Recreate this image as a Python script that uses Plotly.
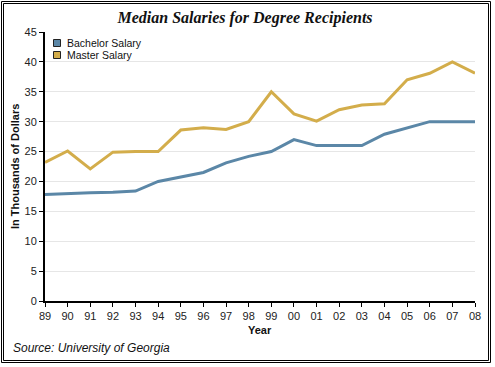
import plotly.graph_objects as go

years = ["89", "90", "91", "92", "93", "94", "95", "96", "97", "98",
         "99", "00", "01", "02", "03", "04", "05", "06", "07", "08"]
bachelor = [17.8, 18.0, 18.1, 18.2, 18.4, 20.0, 20.8, 21.5, 23.1, 24.2,
            25.0, 27.0, 26.0, 26.0, 26.0, 27.9, 29.0, 30.0, 30.0, 30.0]
master = [23.2, 25.1, 22.1, 24.9, 25.0, 25.0, 28.6, 29.0, 28.7, 30.0,
          35.0, 31.3, 30.1, 32.0, 32.8, 33.0, 37.0, 38.1, 40.0, 38.1]
series_names = ["Bachelor Salary", "Master Salary"]
colors = ["#5b87a7", "#d3ad4b"]
y_ticks = [0, 5, 10, 15, 20, 25, 30, 35, 40, 45]

W, H = 495, 367
L, R, T, B = 45, 475, 32, 301


def px(x):
    return (x - L) / (R - L)


def py(y):
    return (B - y) / (B - T)


fig = go.Figure()
for name, vals, c in zip(series_names, [bachelor, master], colors):
    fig.add_trace(go.Scatter(x=years, y=vals, name=name, mode="lines",
                             line=dict(color=c, width=3), showlegend=False))

shapes = []
# double border
for (x0, y0, x1, y1) in [(1.5, 1.5, 490.5, 362.5), (3.5, 3.5, 488.5, 360.5)]:
    shapes.append(dict(type="rect", xref="paper", yref="paper",
                       x0=px(x0), x1=px(x1), y0=py(y1), y1=py(y0),
                       line=dict(color="black", width=1), layer="above"))
# legend squares
annotations = []
for i, (name, c) in enumerate(zip(series_names, colors)):
    top = 39.5 + i * 12
    shapes.append(dict(type="rect", xref="paper", yref="paper",
                       x0=px(53.5), x1=px(60.5), y0=py(top + 7), y1=py(top),
                       fillcolor=c, line=dict(color="#222", width=1), layer="above"))
    annotations.append(dict(text=name, xref="paper", yref="paper",
                            x=px(65), y=py(top + 3.5), xanchor="left", yanchor="middle",
                            showarrow=False,
                            font=dict(family="Liberation Sans, Arial", size=10.5, color="#111")))

annotations += [
    dict(text="<b>In Thousands of Dollars</b>", xref="paper", yref="paper",
         x=px(15), y=py(167), textangle=-90, showarrow=False,
         xanchor="center", yanchor="middle",
         font=dict(family="Liberation Sans, Arial", size=11, color="#111")),
    dict(text="<b>Year</b>", xref="paper", yref="paper",
         x=px(260), y=py(330), showarrow=False, xanchor="center", yanchor="middle",
         font=dict(family="Liberation Sans, Arial", size=11, color="#111")),
    dict(text="<i>Source: University of Georgia</i>", xref="paper", yref="paper",
         x=px(11), y=py(348), showarrow=False, xanchor="left", yanchor="middle",
         font=dict(family="Liberation Sans, Arial", size=12, color="#111")),
]

fig.update_layout(
    width=W, height=H,
    margin=dict(l=L, r=W - R, t=T, b=H - B, pad=0),
    paper_bgcolor="white", plot_bgcolor="white",
    title=dict(text="<b><i>Median Salaries for Degree Recipients</i></b>",
               x=245 / W, xanchor="center", xref="container",
               y=1 - 17 / H, yanchor="middle", yref="container",
               font=dict(family="Liberation Serif, Times New Roman", size=16, color="#111")),
    shapes=shapes, annotations=annotations, showlegend=False,
)
fig.update_xaxes(type="category", categoryorder="array", categoryarray=years,
                 range=[0, len(years) - 1], showgrid=False,
                 showline=True, linecolor="black", linewidth=2,
                 ticks="outside", ticklen=4, tickcolor="black", tickwidth=1,
                 tickfont=dict(family="Liberation Sans, Arial", size=11, color="#222"),
                 zeroline=False, fixedrange=True)
fig.update_yaxes(range=[0, 45], tickvals=y_ticks, showgrid=True, gridcolor="#e6e6e6",
                 gridwidth=1, showline=True, linecolor="black", linewidth=2,
                 ticks="outside", ticklen=4, tickcolor="black", tickwidth=1,
                 tickfont=dict(family="Liberation Sans, Arial", size=11, color="#222"),
                 zeroline=False, fixedrange=True)

fig.write_html("out.html", config={"displayModeBar": False},
               post_script="document.body.style.margin='0';document.body.style.overflow='hidden';")
